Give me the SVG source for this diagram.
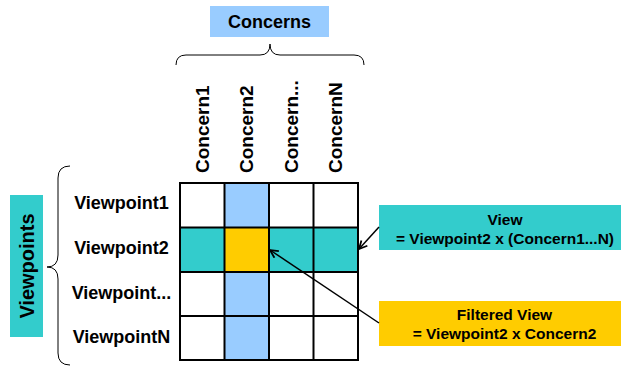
<svg xmlns="http://www.w3.org/2000/svg" width="621" height="367" viewBox="0 0 621 367">
<defs>
<style>
text{font-family:"Liberation Sans",Arial,sans-serif;font-weight:bold;fill:#000}
.lbl{font-size:18px}
.col{font-size:19px}
.box{font-size:15.5px;text-anchor:middle}
.cell{stroke:#000;stroke-width:2}
.brace{fill:none;stroke:#000;stroke-width:1}
.conn{stroke:#000;stroke-width:1.5;fill:none;marker-end:url(#ah)}
</style>
<marker id="ah" markerWidth="10" markerHeight="10" refX="9" refY="5" orient="auto" markerUnits="userSpaceOnUse">
<path d="M1,1 L9,5 L1,9" fill="none" stroke="#000" stroke-width="1.8"/>
</marker>
</defs>
<rect width="621" height="367" fill="#fff"/>

<g id="concerns-label">
<rect x="210" y="6" width="119" height="31" fill="#99CCFF"/>
<text class="lbl" x="269.5" y="28" text-anchor="middle">Concerns</text>
</g>
<g id="concerns-brace">
<path class="brace" d="M176,65 Q176,55 186,55 L260,55 Q270,55 270,44 Q270,55 280,55 L354,55 Q364,55 364,65"/>
</g>

<g id="viewpoints-label">
<rect x="10" y="195" width="33" height="142" fill="#33CCCC"/>
<text class="lbl" style="font-size:20px" text-anchor="middle" transform="translate(34,266) rotate(-90)">Viewpoints</text>
</g>
<g id="viewpoints-brace">
<path class="brace" d="M70,166 Q58,166 58,178 L58,255 Q58,267 47,267 Q58,267 58,279 L58,353 Q58,365 70,365"/>
</g>

<g id="col-labels">
<text class="col" transform="translate(208.5,173) rotate(-90)">Concern1</text>
<text class="col" transform="translate(253,173) rotate(-90)">Concern2</text>
<text class="col" transform="translate(297.5,173) rotate(-90)">Concern...</text>
<text class="col" transform="translate(342,173) rotate(-90)">ConcernN</text>
</g>

<g id="row-labels">
<text class="lbl" x="121.5" y="208.5" text-anchor="middle">Viewpoint1</text>
<text class="lbl" x="121.5" y="253.5" text-anchor="middle">Viewpoint2</text>
<text class="lbl" x="121.5" y="298.5" text-anchor="middle">Viewpoint...</text>
<text class="lbl" x="121.5" y="343" text-anchor="middle">ViewpointN</text>
</g>

<g id="grid">
<rect x="224.5" y="183" width="44.5" height="177" fill="#99CCFF"/>
<rect x="180" y="227.5" width="178" height="44.5" fill="#33CCCC"/>
<rect x="224.5" y="227.5" width="44.5" height="44.5" fill="#FFCC00"/>
<g class="cell" fill="none">
<rect x="180" y="183" width="178" height="177"/>
<line x1="224.5" y1="183" x2="224.5" y2="360"/>
<line x1="269" y1="183" x2="269" y2="360"/>
<line x1="313.5" y1="183" x2="313.5" y2="360"/>
<line x1="180" y1="227.5" x2="358" y2="227.5"/>
<line x1="180" y1="272" x2="358" y2="272"/>
<line x1="180" y1="316" x2="358" y2="316"/>
</g>
</g>

<g id="view-box">
<rect x="379" y="205" width="242" height="45" fill="#33CCCC"/>
<text class="box" x="505" y="224.5">View</text>
<text class="box" x="505" y="243.5">= Viewpoint2 x (Concern1...N)</text>
</g>

<g id="filtered-view-box">
<rect x="379" y="301" width="242" height="45" fill="#FFCC00"/>
<text class="box" x="504.5" y="320">Filtered View</text>
<text class="box" x="504.5" y="338.5">= Viewpoint2 x Concern2</text>
</g>

<g id="connectors">
<line class="conn" x1="379" y1="227" x2="359" y2="249"/>
<line class="conn" x1="379" y1="323" x2="270" y2="250"/>
</g>
</svg>
